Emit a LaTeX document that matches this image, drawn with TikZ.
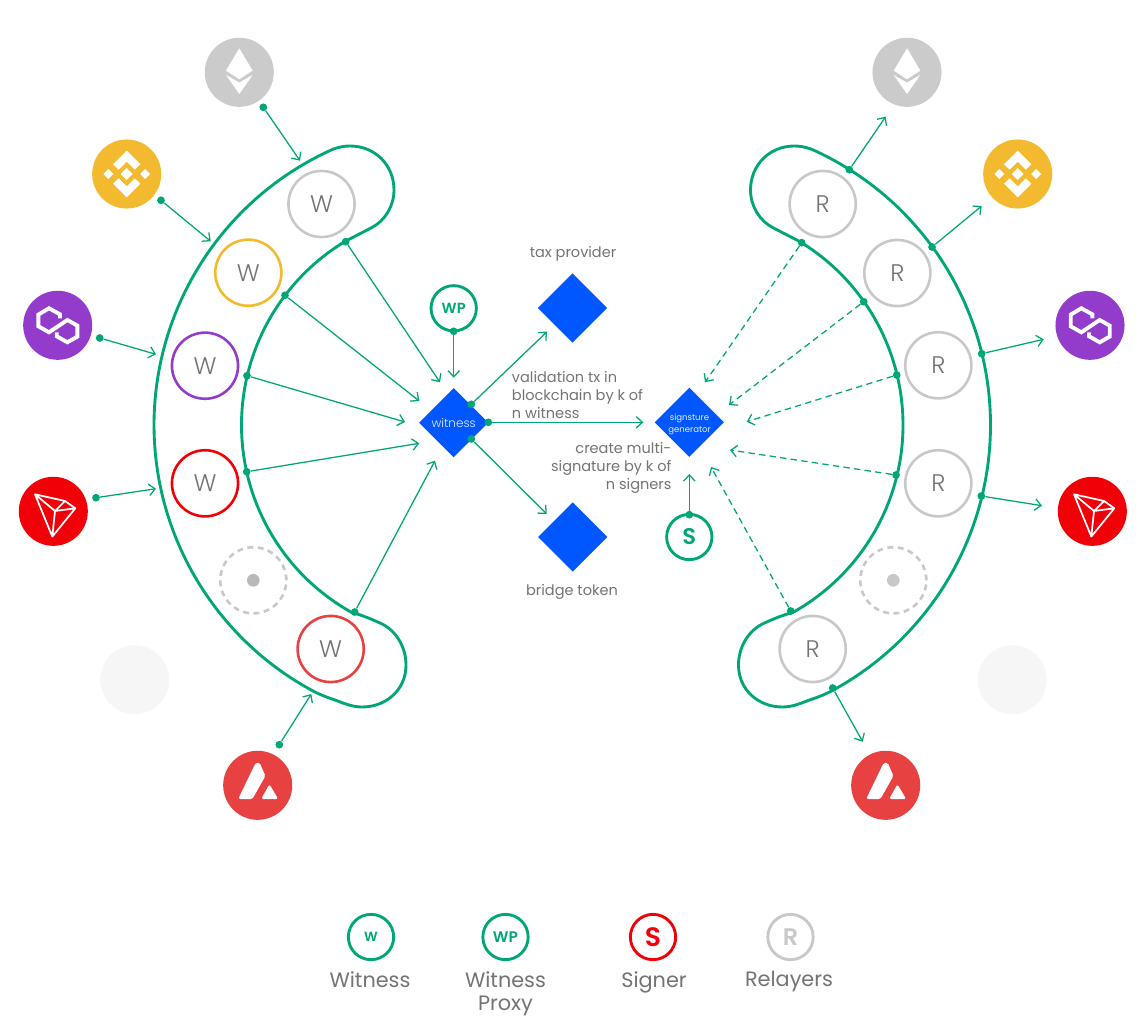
\documentclass[tikz,border=0pt]{standalone}
\usepackage{fontspec}
\usetikzlibrary{arrows.meta,shapes.geometric}
\setmainfont{Poppins}
\newfontfamily\lightf[UprightFont=* Light]{Poppins}
\newfontfamily\boldf[UprightFont=* SemiBold]{Poppins}
\definecolor{gr}{HTML}{00A676}
\definecolor{txt}{HTML}{737373}
\definecolor{cEth}{HTML}{CBCBCB}
\definecolor{cBnb}{HTML}{F3BA2F}
\definecolor{cPol}{HTML}{933CCC}
\definecolor{cTrx}{HTML}{F10008}
\definecolor{cAvx}{HTML}{E84142}
\definecolor{cGhost}{HTML}{F6F6F6}
\definecolor{cBlue}{HTML}{0057FF}
\definecolor{cRing}{HTML}{C8C8C8}
\tikzset{
  zone/.style={draw=gr,line width=2.15pt,line join=round},
  chain/.style={circle,fill=#1,minimum size=51.8pt,inner sep=0pt},
  ring/.style={circle,draw=#1,line width=1.95pt,minimum size=49.6pt,inner sep=0pt,text=txt,font=\lightf\fontsize{18pt}{20pt}\selectfont},
  gapring/.style={circle,draw=cRing,line width=1.95pt,dash pattern=on 4.4pt off 3.4pt,minimum size=49.6pt,inner sep=0pt},
  hub/.style={circle,fill=#1,minimum size=9.5pt,inner sep=0pt},
  key/.style={circle,draw=#1,text=#1,line width=2.15pt,minimum size=34pt,inner sep=0pt},
  dotm/.style={circle,fill=gr,minimum size=5.8pt,inner sep=0pt},
  conn/.style={draw=gr,line width=0.95pt,-{Straight Barb[length=4.6pt,width=8.6pt,line width=0.95pt]}},
  dconn/.style={conn,dash pattern=on 4.8pt off 3.2pt},
  dia/.style={diamond,fill=cBlue,minimum size=52pt,inner sep=0pt},
  dialab/.style={text=white!90!cBlue,inner sep=0pt,align=center},
  lab/.style={text=txt,inner sep=0pt,font=\fontsize{10.9pt}{13.5pt}\selectfont},
  leg/.style={text=txt,inner sep=0pt,font=\fontsize{15.6pt}{17.4pt}\selectfont,align=center},
  icon/.style={fill=white,draw=none}
}
\newcommand\zoneshape{%
  \draw[zone] plot[domain=239:119,samples=121] ({456+214.5*cos(\x)},{425+214.5*sin(\x)})
    .. controls (362,615) and (371,619) .. (380,623)
    .. controls (396,630) and (406,647) .. (406,665)
    .. controls (406,690) and (386,707) .. (362,707)
    .. controls (352,707) and (343,703) .. (335,700)
    .. controls (329,698) and (322,695.6) .. (314.2,691.6)
    -- plot[domain=118:246,samples=121] ({456+302*cos(\x)},{425+302*sin(\x)})
    .. controls (339,147) and (345,146) .. (350,146)
    .. controls (375,146) and (394,165) .. (394,190)
    .. controls (394,206) and (385,221) .. (371,228)
    -- cycle;}
\newcommand\iconEth[1]{\begin{scope}[shift={(#1)}]
  \fill[icon] (0,-24)--(13.3,-1.7)--(0,7)--(-13.3,-1.7)--cycle;
  \fill[icon] (-13.3,2.7)--(0,10.3)--(13.3,2.7)--(0,21.7)--cycle;
\end{scope}}
\newcommand\iconBnb[1]{\begin{scope}[shift={(#1)}]
  \fill[icon] (0,-23.3)--(13.7,-9.7)--(8,-4.3)--(0,-12.3)--(-8,-4.3)--(-13.7,-9.7)--cycle;
  \fill[icon] (0,23.3)--(13.7,9.7)--(8,4.3)--(0,12.3)--(-8,4.3)--(-13.7,9.7)--cycle;
  \fill[icon] (0,-6)--(6,0)--(0,6)--(-6,0)--cycle;
  \fill[icon] (-18.3,-5)--(-13.3,0)--(-18.3,5)--(-23.3,0)--cycle;
  \fill[icon] (18.3,-5)--(23.3,0)--(18.3,5)--(13.3,0)--cycle;
\end{scope}}
\newcommand\iconPol[1]{\begin{scope}[shift={(#1)}]
  \draw[white,line width=2.9pt,line join=miter]
    (2.3,-7)--(2.3,-11)--(-8.7,-17)--(-19.3,-10.7)--(-19.3,1)--(-8.7,7)--(9.7,-5.3)--(19.7,0.3)--(19.7,11.3)--(9.7,17)--(-1,11)--(-1,7);
\end{scope}}
\newcommand\iconTrx[1]{\begin{scope}[shift={(#1)}]
  \draw[white,line width=1.3pt,line join=round]
    (-18.3,-17)--(11.7,-10.3)--(22,-3)--(-1,25.3)--cycle
    (-18.3,-17)--(1.7,-0.3)--(-1,25.3)
    (1.7,-0.3)--(22,-3)
    (1.7,-0.3)--(11.7,-10.3);
\end{scope}}
\newcommand\iconAvx[1]{\begin{scope}[shift={(#1)}]
  \fill[icon,rounded corners=1.2pt] (-2,-22.5)--(2,-22.5)--(7.7,-9.3)--(-5.3,13.7)--(-19.5,13.7)--cycle;
  \fill[icon,rounded corners=1.2pt] (11.7,-1)--(20.5,13.7)--(3.5,13.7)--cycle;
\end{scope}}
\begin{document}
\begin{tikzpicture}[x=0.75pt,y=-0.75pt]
\useasboundingbox (0,0) rectangle (1144,1016);
% zones
\zoneshape
\begin{scope}[shift={(1144.5,0)},xscale=-1]\zoneshape\end{scope}
% chain badges, left
\node[chain=cEth] (lEth) at (239.3,72.3) {};
\node[chain=cBnb] (lBnb) at (126.7,174) {};
\node[chain=cPol] (lPol) at (57.7,325.3) {};
\node[chain=cTrx] (lTrx) at (53.3,511.3) {};
\node[chain=cGhost] (lGhost) at (134.7,679.7) {};
\node[chain=cAvx] (lAvx) at (257.7,785.3) {};
\iconEth{lEth}\iconBnb{lBnb}\iconPol{lPol}\iconTrx{lTrx}\iconAvx{lAvx}
% chain badges, right
\node[chain=cEth] (rEth) at (907,72.3) {};
\node[chain=cBnb] (rBnb) at (1017.7,174) {};
\node[chain=cPol] (rPol) at (1090,325.3) {};
\node[chain=cTrx] (rTrx) at (1092.3,511.3) {};
\node[chain=cGhost] (rGhost) at (1012.3,679.7) {};
\node[chain=cAvx] (rAvx) at (885.7,785.3) {};
\iconEth{rEth}\iconBnb{rBnb}\iconPol{rPol}\iconTrx{rTrx}\iconAvx{rAvx}
% witness rings
\node[ring=cRing] (w1) at (321.5,204) {W};
\node[ring=cBnb] (w2) at (248.3,272.7) {W};
\node[ring=cPol] (w3) at (205,365.7) {W};
\node[ring=cTrx] (w4) at (205,483.3) {W};
\node[gapring] (w5) at (253.3,580.3) {};
\node[hub=cRing!80!gray] (w5c) at (253.3,580.3) {};
\node[ring=cAvx] (w6) at (330.7,649) {W};
% relayer rings
\node[ring=cRing] (r1) at (822.7,204) {R};
\node[ring=cRing] (r2) at (897.3,273) {R};
\node[ring=cRing] (r3) at (938.3,365.3) {R};
\node[ring=cRing] (r4) at (938.3,483.3) {R};
\node[gapring] (r5) at (893.3,580.3) {};
\node[hub=cRing] (r5c) at (893.3,580.3) {};
\node[ring=cRing] (r6) at (812.7,649) {R};
% centre diamonds
\node[dia] (wit) at (453.7,422.7) {};
\node[dia] (sig) at (689.3,422.3) {};
\node[dia] (tax) at (572.5,308) {};
\node[dia] (bri) at (572.7,537) {};
\node[dialab,font=\lightf\fontsize{9pt}{10pt}\selectfont] (tWit) at (453.7,423) {witness};
\node[dialab,font=\fontsize{6.4pt}{9pt}\selectfont] (tSig) at (689.5,424) {signsture\\generator};
\node[key=gr,font=\boldf\fontsize{11pt}{12pt}\selectfont] (wp) at (453.7,308.3) {WP};
\node[key=gr,font=\boldf\fontsize{17pt}{19pt}\selectfont] (sn) at (689.3,537) {S};
% labels
\node[lab] (lTax) at (573,254) {tax provider};
\node[lab] (lBri) at (572,592) {bridge token};
\node[lab,anchor=west,align=left] (lVal) at (511.7,395.5) {validation tx in\\blockchain by k of\\n witness};
\node[lab,anchor=east,align=right] (lCre) at (671.7,468) {create multi-\\signature by k of\hspace{2.5pt}\\n signers};
% left outer connectors
\node[dotm] (a1) at (263.3,107.3) {}; \coordinate (b1) at (300,160.7);
\node[dotm] (a2) at (161,200.3) {};   \coordinate (b2) at (210.7,241.3);
\node[dotm] (a3) at (99.7,338) {};    \coordinate (b3) at (156,354.3);
\node[dotm] (a4) at (96,497.7) {};    \coordinate (b4) at (156,488.7);
\node[dotm] (a5) at (279.3,744.7) {}; \coordinate (b5) at (311.3,694);
\foreach \i in {1,...,5} \draw[conn] (a\i) -- (b\i);
% left inner connectors
\node[dotm] (c1) at (345.7,241.7) {}; \coordinate (e1) at (440,382.3);
\node[dotm] (c2) at (285,295.3) {};   \coordinate (e2) at (419.3,401);
\node[dotm] (c3) at (247,375.7) {};   \coordinate (e3) at (405,422);
\node[dotm] (c4) at (246.7,471.7) {}; \coordinate (e4) at (419.3,443.3);
\node[dotm] (c5) at (354.7,612) {};   \coordinate (e5) at (435,460.7);
\foreach \i in {1,...,5} \draw[conn] (c\i) -- (e\i);
% centre connectors
\node[dotm] (f0) at (453.7,331.3) {}; \coordinate (g0) at (453.7,377.7);
\node[dotm] (f1) at (471.3,404.3) {}; \coordinate (g1) at (547,331.7);
\node[dotm] (f2) at (488.3,422.3) {}; \coordinate (g2) at (643.3,422.3);
\node[dotm] (f3) at (471.3,439) {};   \coordinate (g3) at (546.7,514);
\node[dotm] (f4) at (689.3,514.7) {}; \coordinate (g4) at (689.3,474);
\foreach \i in {0,...,4} \draw[conn] (f\i) -- (g\i);
% right inner dashed connectors
\node[dotm] (h1) at (801.7,242.7) {}; \coordinate (i1) at (705,382.3);
\node[dotm] (h2) at (863.7,301.7) {}; \coordinate (i2) at (729,405);
\node[dotm] (h3) at (896.7,375) {};   \coordinate (i3) at (746.7,421.7);
\node[dotm] (h4) at (896,475) {};     \coordinate (i4) at (730,450);
\node[dotm] (h5) at (790.7,611) {};   \coordinate (i5) at (711,467);
\foreach \i in {1,...,5} \draw[dconn] (h\i) -- (i\i);
% right outer connectors
\node[dotm] (j1) at (849.3,169.7) {}; \coordinate (k1) at (885.7,116.7);
\node[dotm] (j2) at (932,247) {};     \coordinate (k2) at (981.7,206);
\node[dotm] (j3) at (981.7,353.7) {}; \coordinate (k3) at (1043.7,339.3);
\node[dotm] (j4) at (981.3,496) {};   \coordinate (k4) at (1042,505.7);
\node[dotm] (j5) at (832.7,688) {};   \coordinate (k5) at (862.7,741.7);
\foreach \i in {1,...,5} \draw[conn] (j\i) -- (k\i);
% legend
\node[key=gr,font=\boldf\fontsize{10pt}{11pt}\selectfont] (kW) at (371,937) {W};
\node[key=gr,font=\boldf\fontsize{11.5pt}{12pt}\selectfont] (kP) at (505.5,937) {WP};
\node[key=cTrx,font=\boldf\fontsize{20pt}{22pt}\selectfont] (kS) at (653,937) {S};
\node[key=cRing,font=\boldf\fontsize{18pt}{20pt}\selectfont] (kR) at (790.5,937) {R};
\node[leg,anchor=north] (tW) at (370,971) {Witness};
\node[leg,anchor=north] (tP) at (505.5,971) {Witness\\Proxy};
\node[leg,anchor=north] (tS) at (654,971) {Signer};
\node[leg,anchor=north] (tR) at (789,971) {Relayers};
\end{tikzpicture}
\end{document}
